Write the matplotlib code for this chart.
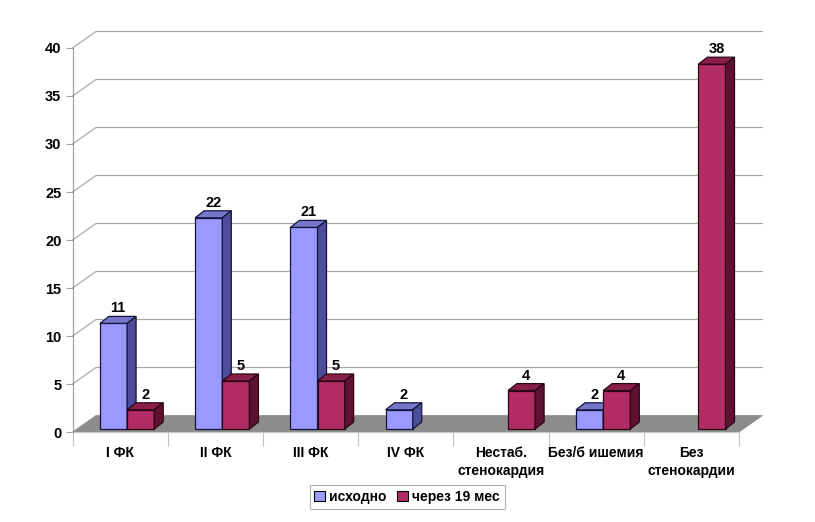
import numpy as np
import matplotlib.pyplot as plt
from matplotlib.patches import Polygon

plt.rcParams['font.family'] = ['Liberation Sans', 'DejaVu Sans']
plt.rcParams['font.weight'] = 'bold'

categories = ['I ФК', 'II ФК', 'III ФК', 'IV ФК', 'Нестаб.\nстенокардия',
              'Без/б ишемия', 'Без\nстенокардии']
iskhodno = [11, 22, 21, 2, 0, 2, 0]
cherez = [2, 5, 5, 0, 4, 4, 38]
series_names = ['исходно', 'через 19 мес']
yticks = np.arange(0, 41, 5)

# colours: front, top, side
blue = ('#9999FF', '#7676CC', '#4D4D99')
red = ('#B22D63', '#8A1F4A', '#5E1230')

W, H = 815, 522
fig = plt.figure(figsize=(W / 100, H / 100), dpi=100)
x0, x1, y0, y1 = 72.5, 739, 432, 48
ax = fig.add_axes([x0 / W, 1 - y0 / H, (x1 - x0) / W, (y0 - y1) / H])
ax.set_xlim(0, len(categories))
ax.set_ylim(0, 40)

pxx = (x1 - x0) / len(categories)   # px per x unit
pxy = (y0 - y1) / 40                # px per y unit

# depth offsets (px -> data)
wdx, wdy = 23.5 / pxx, 16.5 / pxy   # back wall
bdx, bdy = 9 / pxx, 7 / pxy         # bar depth
sdx, sdy = 6.5 / pxx, 3 / pxy       # bar position inside the floor
bw = 0.285

grid_c = '#A8A8A8'
for t in yticks[1:]:
    ax.plot([0, wdx, len(categories) + wdx], [t, t + wdy, t + wdy],
            color=grid_c, lw=0.9, clip_on=False, zorder=1)

n = len(categories)
floor = Polygon([(0, 0), (n, 0), (n + wdx, wdy), (wdx, wdy)],
                closed=True, facecolor='#8C8C8C', edgecolor='#8C8C8C',
                lw=0.5, clip_on=False, zorder=2)
ax.add_patch(floor)
ax.plot([0, n], [0, 0], color='#C8C8C8', lw=0.8, clip_on=False, zorder=2)


def bar3d(x, v, cols, ec):
    xl = x + sdx
    yb = sdy
    yt = v + sdy
    xr = xl + bw
    ax.bar(xl, v, width=bw, bottom=yb, align='edge', color=cols[0],
           edgecolor=ec, lw=0.9, zorder=4, clip_on=False)
    top = Polygon([(xl, yt), (xr, yt), (xr + bdx, yt + bdy), (xl + bdx, yt + bdy)],
                  closed=True, facecolor=cols[1], edgecolor=ec, lw=0.9,
                  zorder=4, clip_on=False)
    side = Polygon([(xr, yb), (xr + bdx, yb + bdy), (xr + bdx, yt + bdy), (xr, yt)],
                   closed=True, facecolor=cols[2], edgecolor=ec, lw=0.9,
                   zorder=4, clip_on=False)
    ax.add_patch(top)
    ax.add_patch(side)
    ax.text(xl + bw / 2 + bdx / 2, yt + bdy + 1 / pxy, str(v),
            ha='center', va='bottom', fontsize=10.5, fontweight='bold',
            zorder=6, clip_on=False)


for i in range(n):
    if iskhodno[i] > 0:
        bar3d(i + 0.22, iskhodno[i], blue, '#14143A')
    if cherez[i] > 0:
        bar3d(i + 0.22 + bw, cherez[i], red, '#2A0514')

# axes
for s in ['top', 'right', 'bottom']:
    ax.spines[s].set_visible(False)
ax.spines['left'].set_color('#A0A0A0')
ax.spines['left'].set_linewidth(0.9)
ax.set_yticks(yticks)
ax.tick_params(axis='y', length=5, color='#A0A0A0', labelsize=10.5, pad=3)
ax.set_xticks(np.arange(n) + 0.5)
ax.set_xticklabels(categories, fontsize=10, linespacing=1.35)
ax.set_xticks(np.arange(n + 1), minor=True)
ax.tick_params(axis='x', which='major', length=0, pad=10)
ax.tick_params(axis='x', which='minor', length=10, color='#C0C0C0', width=0.8)
for lab in ax.get_xticklabels() + ax.get_yticklabels():
    lab.set_fontweight('bold')

handles = [Polygon([(0, 0)], facecolor=blue[0], edgecolor='black', lw=0.8),
           Polygon([(0, 0)], facecolor=red[0], edgecolor='black', lw=0.8)]
leg = fig.legend(handles, series_names, loc='center',
                 bbox_to_anchor=(407 / W, 1 - 497 / H), ncol=2,
                 frameon=True, fancybox=False, edgecolor='#A0A0A0',
                 handlelength=0.75, handleheight=0.75, handletextpad=0.3,
                 columnspacing=0.8, borderpad=0.35,
                 prop={'weight': 'bold', 'size': 10})
leg.get_frame().set_linewidth(0.8)

fig.savefig('out.png', dpi=100)
